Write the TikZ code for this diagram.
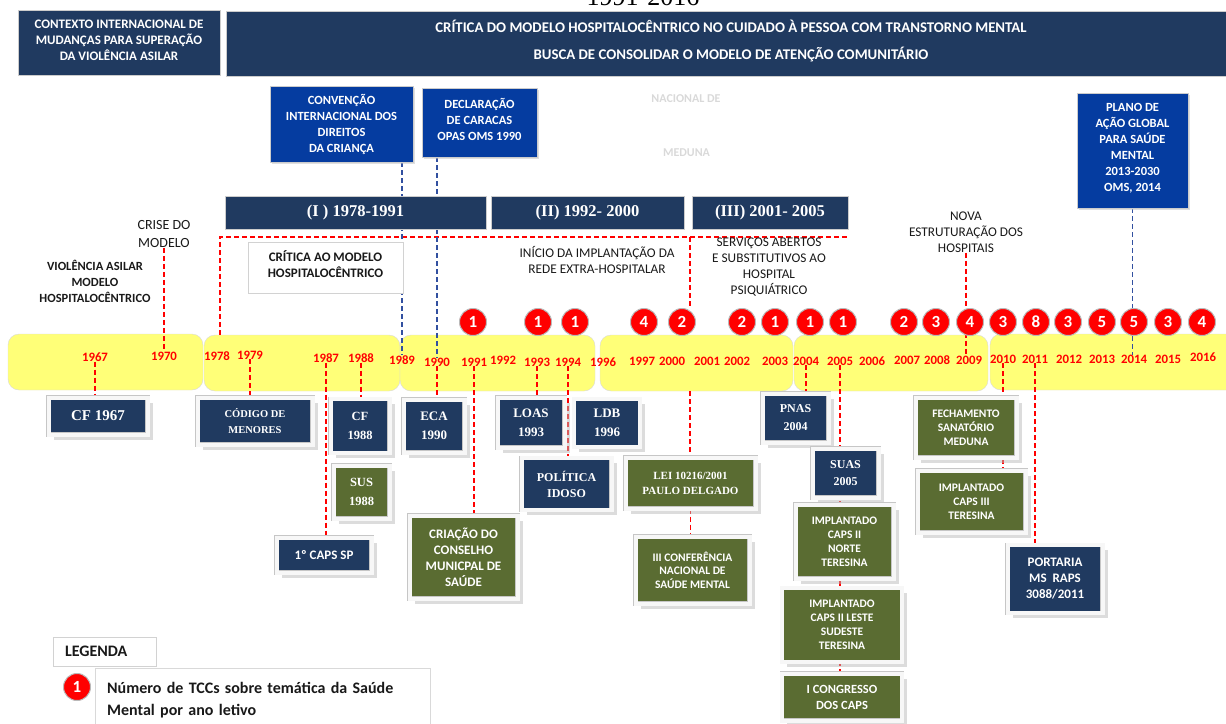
\documentclass[tikz,border=0pt]{standalone}
\usepackage{fontspec}
\setmainfont{Liberation Serif}
\setsansfont{Carlito}
\usepackage{tikz}
\usetikzlibrary{shadows}

\definecolor{navy}{RGB}{32,58,96}
\definecolor{oblue}{RGB}{5,60,160}
\definecolor{olive}{RGB}{90,108,50}
\definecolor{tyellow}{RGB}{255,255,120}
\definecolor{tred}{RGB}{255,0,0}
\definecolor{lblue}{RGB}{50,80,160}
\definecolor{ink}{RGB}{25,25,25}

\pgfdeclarelayer{back}
\pgfdeclarelayer{links}
\pgfsetlayers{back,links,main}

\begin{document}
\begin{tikzpicture}
[x=1pt,y=-1pt,
hdr/.style={fill=navy,draw=gray!40,text=white,align=center,inner sep=0pt},
intl/.style={fill=oblue,draw=gray!40,text=white,align=center,inner sep=0pt,drop shadow={shadow xshift=2pt,shadow yshift=-2pt,fill=gray!50},font=\sffamily\bfseries\fontsize{12.5}{16}\selectfont},
period/.style={fill=navy,draw=gray!40,text=white,inner sep=0pt,font=\rmfamily\bfseries\fontsize{16.5}{18}\selectfont},
tag/.style={text=ink,align=center,inner sep=0pt,font=\sffamily\fontsize{13.3}{16}\selectfont},
yr/.style={text=tred,inner sep=0pt,font=\sffamily\bfseries\fontsize{12.8}{14}\selectfont},
bub/.style={circle,fill=tred,draw=gray!55,line width=1pt,text=white,minimum size=27pt,inner sep=0pt,font=\sffamily\bfseries\fontsize{17}{17}\selectfont},
tseg/.style={fill=tyellow,draw=gray!30,rounded corners=11pt,inner sep=0pt,minimum height=56pt},
evt/.style={draw=gray!45,double=gray!6,double distance=4pt,text=white,align=center,inner sep=0pt,drop shadow={shadow xshift=5pt,shadow yshift=-5pt,fill=gray!55}},
nb/.style={evt,fill=navy,font=\sffamily\bfseries\fontsize{11.5}{14}\selectfont},
gb/.style={evt,fill=olive,font=\sffamily\bfseries\fontsize{11.5}{14}\selectfont},
rdash/.style={draw=tred,line width=1.3pt,dash pattern=on 5pt off 3pt},
bdash/.style={draw=lblue,line width=1.3pt,dash pattern=on 5pt off 3pt}]
\useasboundingbox (0,0) rectangle (1226,723);

\node[anchor=base,inner sep=0pt,font=\rmfamily\fontsize{26}{26}\selectfont] (title) at (643,5) {1991-2016};

\node[hdr,minimum width=202pt,minimum height=65pt,text depth=5pt,font=\sffamily\bfseries\fontsize{13}{16}\selectfont] (ctx) at (119,42.5) {CONTEXTO INTERNACIONAL DE\\MUDANÇAS PARA SUPERAÇÃO\\DA VIOLÊNCIA ASILAR};
\node[hdr,minimum width=1010pt,minimum height=65pt,text depth=8pt,font=\sffamily\bfseries\fontsize{14.8}{27}\selectfont] (crit) at (731,43.5) {CRÍTICA DO MODELO HOSPITALOCÊNTRICO NO CUIDADO À PESSOA COM TRANSTORNO MENTAL\\BUSCA DE CONSOLIDAR O MODELO DE ATENÇÃO COMUNITÁRIO};

\node[intl,minimum width=143pt,minimum height=76pt] (conv) at (341.5,124) {CONVENÇÃO\\INTERNACIONAL DOS\\DIREITOS\\DA CRIANÇA};
\node[intl,minimum width=115pt,minimum height=69pt,text depth=7pt] (decl) at (479.5,122.5) {DECLARAÇÃO\\DE CARACAS\\OPAS OMS 1990};
\node[intl,minimum width=111pt,minimum height=115pt,text depth=7pt] (plano) at (1132.5,150.5) {PLANO DE\\AÇÃO GLOBAL\\PARA SAÚDE\\MENTAL\\2013-2030\\OMS, 2014};

\node[text=black!15,font=\sffamily\bfseries\fontsize{12}{14}\selectfont] (nac) at (686,99) {NACIONAL DE};
\node[text=black!15,font=\sffamily\bfseries\fontsize{12}{14}\selectfont] (med) at (686.5,153) {MEDUNA};

\node[period,minimum width=261pt,minimum height=33pt] (per1) at (355.5,212.5) {(I )\ 1978-1991};
\node[period,minimum width=193pt,minimum height=33pt] (per2) at (587.5,212.5) {(II) 1992- 2000};
\node[period,minimum width=156pt,minimum height=33pt] (per3) at (770,212.5) {(III) 2001- 2005};

\node[tag,font=\sffamily\fontsize{14}{18}\selectfont] (crise) at (164,234) {CRISE DO\\MODELO};
\node[tag,font=\sffamily\bfseries\fontsize{12.5}{16}\selectfont] (asilo) at (95,281) {VIOLÊNCIA ASILAR\\MODELO\\HOSPITALOCÊNTRICO};
\node[tag,draw=gray!35,fill=white,minimum width=155pt,minimum height=51pt,text depth=7pt,font=\sffamily\bfseries\fontsize{13}{16}\selectfont] (critbox) at (325.5,267.5) {CRÍTICA AO MODELO\\HOSPITALOCÊNTRICO};
\node[tag] (inicio) at (597,260) {INÍCIO DA IMPLANTAÇÃO DA\\REDE EXTRA-HOSPITALAR};
\node[tag] (servicos) at (769,267.5) {SERVIÇOS ABERTOS\\E SUBSTITUTIVOS AO\\HOSPITAL\\PSIQUIÁTRICO};
\node[tag] (nova) at (966,232) {NOVA\\ESTRUTURAÇÃO DOS\\HOSPITAIS};

\begin{pgfonlayer}{back}
\node[tseg,minimum width=195pt] (seg1) at (105.5,362) {};
\node[tseg,minimum width=196pt] (seg2) at (302,363) {};
\node[tseg,minimum width=195pt] (seg3) at (497.5,363) {};
\node[tseg,minimum width=193pt] (seg4) at (696.5,363) {};
\node[tseg,minimum width=194pt] (seg5) at (891,363) {};
\node[tseg,minimum width=250pt] (seg6) at (1115,362) {};
\end{pgfonlayer}

\node[yr] (y1967) at (95,357) {1967};
\node[yr] (y1970) at (164,356) {1970};
\node[yr] (y1978) at (217,356) {1978};
\node[yr] (y1979) at (250,355) {1979};
\node[yr] (y1987) at (326,358) {1987};
\node[yr] (y1988) at (361,358) {1988};
\node[yr] (y1989) at (402,360) {1989};
\node[yr] (y1990) at (437,362) {1990};
\node[yr] (y1991) at (474,362) {1991};
\node[yr] (y1992) at (503,360) {1992};
\node[yr] (y1993) at (537,362) {1993};
\node[yr] (y1994) at (568,362) {1994};
\node[yr] (y1996) at (603,362) {1996};
\node[yr] (y1997) at (642,361) {1997};
\node[yr] (y2000) at (672,361) {2000};
\node[yr] (y2001) at (707,361) {2001};
\node[yr] (y2002) at (737,361) {2002};
\node[yr] (y2003) at (775,361) {2003};
\node[yr] (y2004) at (806,361) {2004};
\node[yr] (y2005) at (840,361) {2005};
\node[yr] (y2006) at (872,361) {2006};
\node[yr] (y2007) at (907,360) {2007};
\node[yr] (y2008) at (937,360) {2008};
\node[yr] (y2009) at (969,360) {2009};
\node[yr] (y2010) at (1003,359) {2010};
\node[yr] (y2011) at (1035,359) {2011};
\node[yr] (y2012) at (1069,359) {2012};
\node[yr] (y2013) at (1102,359) {2013};
\node[yr] (y2014) at (1134,359) {2014};
\node[yr] (y2015) at (1168,359) {2015};
\node[yr] (y2016) at (1203,357) {2016};

\node[bub] (b1991) at (473,322) {1};
\node[bub] (b1993) at (538,322) {1};
\node[bub] (b1994) at (575,322) {1};
\node[bub] (b1997) at (644,322) {4};
\node[bub] (b2000) at (682,322) {2};
\node[bub] (b2002) at (742,322) {2};
\node[bub] (b2003) at (775,322) {1};
\node[bub] (b2004) at (810,322) {1};
\node[bub] (b2005) at (843,322) {1};
\node[bub] (b2007) at (904,322) {2};
\node[bub] (b2008) at (936,322) {3};
\node[bub] (b2009) at (970,322) {4};
\node[bub] (b2010) at (1003,322) {3};
\node[bub] (b2011) at (1036,322) {8};
\node[bub] (b2012) at (1068,322) {3};
\node[bub] (b2013) at (1102,322) {5};
\node[bub] (b2014) at (1134,322) {5};
\node[bub] (b2015) at (1168,322) {3};
\node[bub] (b2016) at (1202,322) {4};

\node[nb,minimum width=99pt,minimum height=37pt,font=\rmfamily\bfseries\fontsize{15}{18}\selectfont] (cf67) at (98,416) {CF 1967};
\node[nb,minimum width=115pt,minimum height=47pt,font=\rmfamily\bfseries\fontsize{10.5}{16}\selectfont] (codigo) at (255,421) {CÓDIGO DE\\MENORES};
\node[nb,minimum width=59pt,minimum height=54pt,font=\rmfamily\bfseries\fontsize{12.5}{19}\selectfont] (cf88) at (360,426) {CF\\1988};
\node[gb,minimum width=56pt,minimum height=53pt,font=\rmfamily\bfseries\fontsize{12.5}{19}\selectfont] (sus88) at (361.5,492) {SUS\\1988};
\node[nb,minimum width=95pt,minimum height=35pt,font=\sffamily\bfseries\fontsize{13}{16}\selectfont] (caps1) at (324,555) {1º CAPS SP};
\node[nb,minimum width=61pt,minimum height=53pt,font=\rmfamily\bfseries\fontsize{13}{19}\selectfont] (eca) at (434,426) {ECA\\1990};
\node[nb,minimum width=67pt,minimum height=50pt,font=\rmfamily\bfseries\fontsize{13}{19}\selectfont] (loas) at (531,422.5) {LOAS\\1993};
\node[nb,minimum width=66pt,minimum height=48pt,font=\rmfamily\bfseries\fontsize{13}{19}\selectfont] (ldb) at (607,423) {LDB\\1996};
\node[nb,minimum width=90pt,minimum height=52pt,font=\rmfamily\bfseries\fontsize{12}{16}\selectfont] (idoso) at (566.5,484) {POLÍTICA\\IDOSO};
\node[gb,minimum width=108pt,minimum height=83pt,font=\sffamily\bfseries\fontsize{13}{16}\selectfont] (criacao) at (463.5,557) {CRIAÇÃO DO\\CONSELHO\\MUNICPAL DE\\SAÚDE};
\node[gb,minimum width=130pt,minimum height=51pt,font=\rmfamily\bfseries\fontsize{11}{15}\selectfont] (lei) at (690.5,483) {LEI 10216/2001\\PAULO DELGADO};
\node[gb,minimum width=114pt,minimum height=67pt,font=\sffamily\bfseries\fontsize{11.5}{13.5}\selectfont] (conf) at (692.5,570) {III CONFERÊNCIA\\NACIONAL DE\\SAÚDE MENTAL};
\node[nb,minimum width=66pt,minimum height=49pt,font=\rmfamily\bfseries\fontsize{12}{18}\selectfont] (pnas) at (795.5,418) {PNAS\\2004};
\node[nb,minimum width=66pt,minimum height=49pt,font=\rmfamily\bfseries\fontsize{12}{17}\selectfont] (suas) at (845.5,473) {SUAS\\2005};
\node[gb,minimum width=98pt,minimum height=74pt] (capsnorte) at (844.5,541.5) {IMPLANTADO\\CAPS II\\NORTE\\TERESINA};
\node[gb,minimum width=120pt,minimum height=74pt] (capsleste) at (842,625) {IMPLANTADO\\CAPS II LESTE\\SUDESTE\\TERESINA};
\node[gb,minimum width=120pt,minimum height=47pt,font=\sffamily\bfseries\fontsize{12.5}{16}\selectfont] (congr) at (842,697) {I CONGRESSO\\DOS CAPS};
\node[gb,minimum width=101pt,minimum height=60pt] (fech) at (966,427.5) {FECHAMENTO\\SANATÓRIO\\MEDUNA};
\node[gb,minimum width=108pt,minimum height=62pt] (caps3) at (971.5,501.5) {IMPLANTADO\\CAPS III\\TERESINA};
\node[nb,minimum width=95pt,minimum height=68pt,font=\sffamily\bfseries\fontsize{13}{16}\selectfont] (portaria) at (1055,579) {PORTARIA\\MS\ \ RAPS\\3088/2011};

\node[draw=gray!35,fill=white,minimum width=103pt,minimum height=29pt,text width=79pt,inner xsep=12pt,align=left,text=ink,font=\sffamily\bfseries\fontsize{16}{18}\selectfont] (leg) at (104.5,651.5) {LEGENDA};
\node[draw=gray!30,fill=white,anchor=north west,minimum width=335pt,minimum height=64pt,text width=311pt,inner xsep=12pt,inner ysep=6pt,align=left,text=ink,font=\sffamily\bfseries\fontsize{16}{22}\selectfont] (legtxt) at (95,668) {Número de TCCs sobre temática da Saúde\\Mental por ano letivo};
\node[bub] (legb) at (77,687) {1};

\coordinate (k1) at (220,237);
\coordinate (k2) at (848,237);
\coordinate (k3) at (690,237);

\begin{pgfonlayer}{links}
\draw [rdash] (crise.south) -- (crise.south |- y1970.north);
\draw [rdash] (k1 |- seg2.north) -- (k1) -- (k2);
\draw [rdash] (k3) -- (k3 |- b2000.north);
\draw [rdash] (k3 |- seg4.south) -- (k3 |- lei.north);
\draw [rdash] (lei.south) -- (lei.south |- conf.north);
\draw [rdash] (nova.south) -- (nova.south |- y2009.north);

\draw [bdash] (y1989.north |- conv.south) -- (y1989.north);
\draw [bdash] (y1990.north |- decl.south) -- (y1990.north);
\draw [bdash] (plano.south) -- (plano.south |- y2014.north);

\draw [rdash] (y1967.south) -- (y1967.south |- cf67.north);
\draw [rdash] (y1979.south) -- (y1979.south |- codigo.north);
\draw [rdash] (y1987.south) -- (y1987.south |- caps1.north);
\draw [rdash] (y1988.south) -- (y1988.south |- cf88.north);
\draw [rdash] (y1990.south) -- (y1990.south |- eca.north);
\draw [rdash] (y1991.south) -- (y1991.south |- criacao.north);
\draw [rdash] (y1993.south) -- (y1993.south |- loas.north);
\draw [rdash] (y1994.south) -- (y1994.south |- idoso.north);
\draw [rdash] (y2004.south) -- (y2004.south |- pnas.north);
\draw [rdash] (y2005.south) -- (y2005.south |- congr.north);
\draw [rdash] (y2010.south) -- (y2010.south |- caps3.south);
\draw [rdash] (y2011.south) -- (y2011.south |- portaria.north);
\end{pgfonlayer}
\end{tikzpicture}
\end{document}
